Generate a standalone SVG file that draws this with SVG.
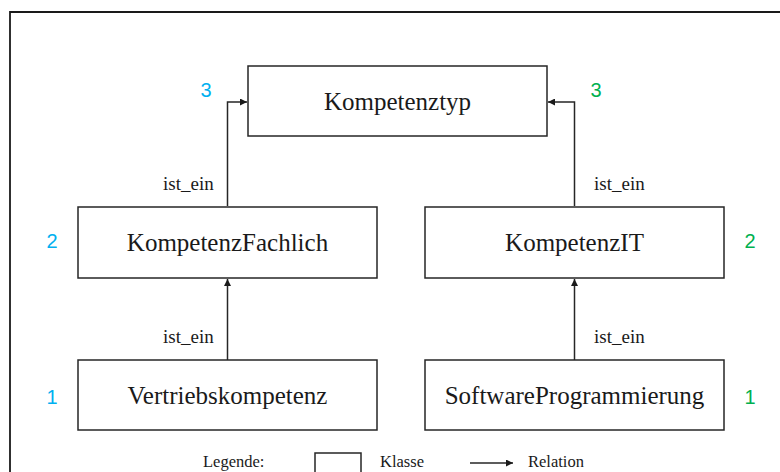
<svg xmlns="http://www.w3.org/2000/svg" width="780" height="472" viewBox="0 0 780 472">
<style>
.box{fill:#fff;stroke:#262626;stroke-width:1.5}
.lbl{font-family:"Liberation Serif","Times New Roman",serif;font-size:25px;fill:#1a1a1a;text-anchor:middle}
.rel{font-family:"Liberation Serif","Times New Roman",serif;font-size:19px;fill:#1a1a1a}
.leg{font-family:"Liberation Serif","Times New Roman",serif;font-size:16.5px;fill:#1a1a1a}
.num{font-family:"Liberation Sans","Open Sans",sans-serif;font-size:20px;text-anchor:middle}
.blue{fill:#00B0F0}
.green{fill:#00B050}
.con{fill:none;stroke:#262626;stroke-width:1.5}
</style>
<defs>
<marker id="arr" viewBox="0 0 10 10" refX="10" refY="5" markerWidth="7" markerHeight="7" markerUnits="userSpaceOnUse" orient="auto">
<path d="M0,0 L10,5 L0,10 Z" fill="#1a1a1a"/>
</marker>
</defs>
<rect x="0" y="0" width="780" height="472" fill="#fff"/>
<path d="M10,473 V12 H781" fill="none" stroke="#1a1a1a" stroke-width="1.8"/>

<g id="connectors">
<path class="con" d="M227.5,206 V102 H247" marker-end="url(#arr)"/>
<path class="con" d="M574.5,206 V102 H548" marker-end="url(#arr)"/>
<path class="con" d="M227.5,360 V279" marker-end="url(#arr)"/>
<path class="con" d="M574.5,360 V279" marker-end="url(#arr)"/>
<text class="rel" x="163" y="190">ist_ein</text>
<text class="rel" x="594" y="190">ist_ein</text>
<text class="rel" x="163" y="343">ist_ein</text>
<text class="rel" x="594" y="343">ist_ein</text>
</g>

<g id="kompetenztyp">
<rect class="box" x="248" y="66" width="299" height="70"/>
<text class="lbl" x="397.5" y="110">Kompetenztyp</text>
</g>
<g id="kompetenzfachlich">
<rect class="box" x="78" y="207" width="299" height="71"/>
<text class="lbl" x="227.5" y="251">KompetenzFachlich</text>
</g>
<g id="kompetenzit">
<rect class="box" x="425" y="207" width="299" height="71"/>
<text class="lbl" x="574.5" y="251">KompetenzIT</text>
</g>
<g id="vertriebskompetenz">
<rect class="box" x="78" y="360" width="299" height="70"/>
<text class="lbl" x="227.5" y="404">Vertriebskompetenz</text>
</g>
<g id="softwareprogrammierung">
<rect class="box" x="425" y="360" width="299" height="70"/>
<text class="lbl" x="574.5" y="404">SoftwareProgrammierung</text>
</g>

<g id="numbers">
<text class="num blue" x="206" y="97">3</text>
<text class="num green" x="596" y="97">3</text>
<text class="num blue" x="52" y="248">2</text>
<text class="num green" x="750" y="248">2</text>
<text class="num blue" x="52" y="404">1</text>
<text class="num green" x="750" y="404">1</text>
</g>

<g id="legend">
<text class="leg" x="203" y="467">Legende:</text>
<rect x="315" y="453" width="46" height="30" fill="#fff" stroke="#262626" stroke-width="1.5"/>
<text class="leg" x="380" y="467">Klasse</text>
<path class="con" d="M470,463 H513" marker-end="url(#arr)"/>
<text class="leg" x="528" y="467">Relation</text>
</g>
</svg>
